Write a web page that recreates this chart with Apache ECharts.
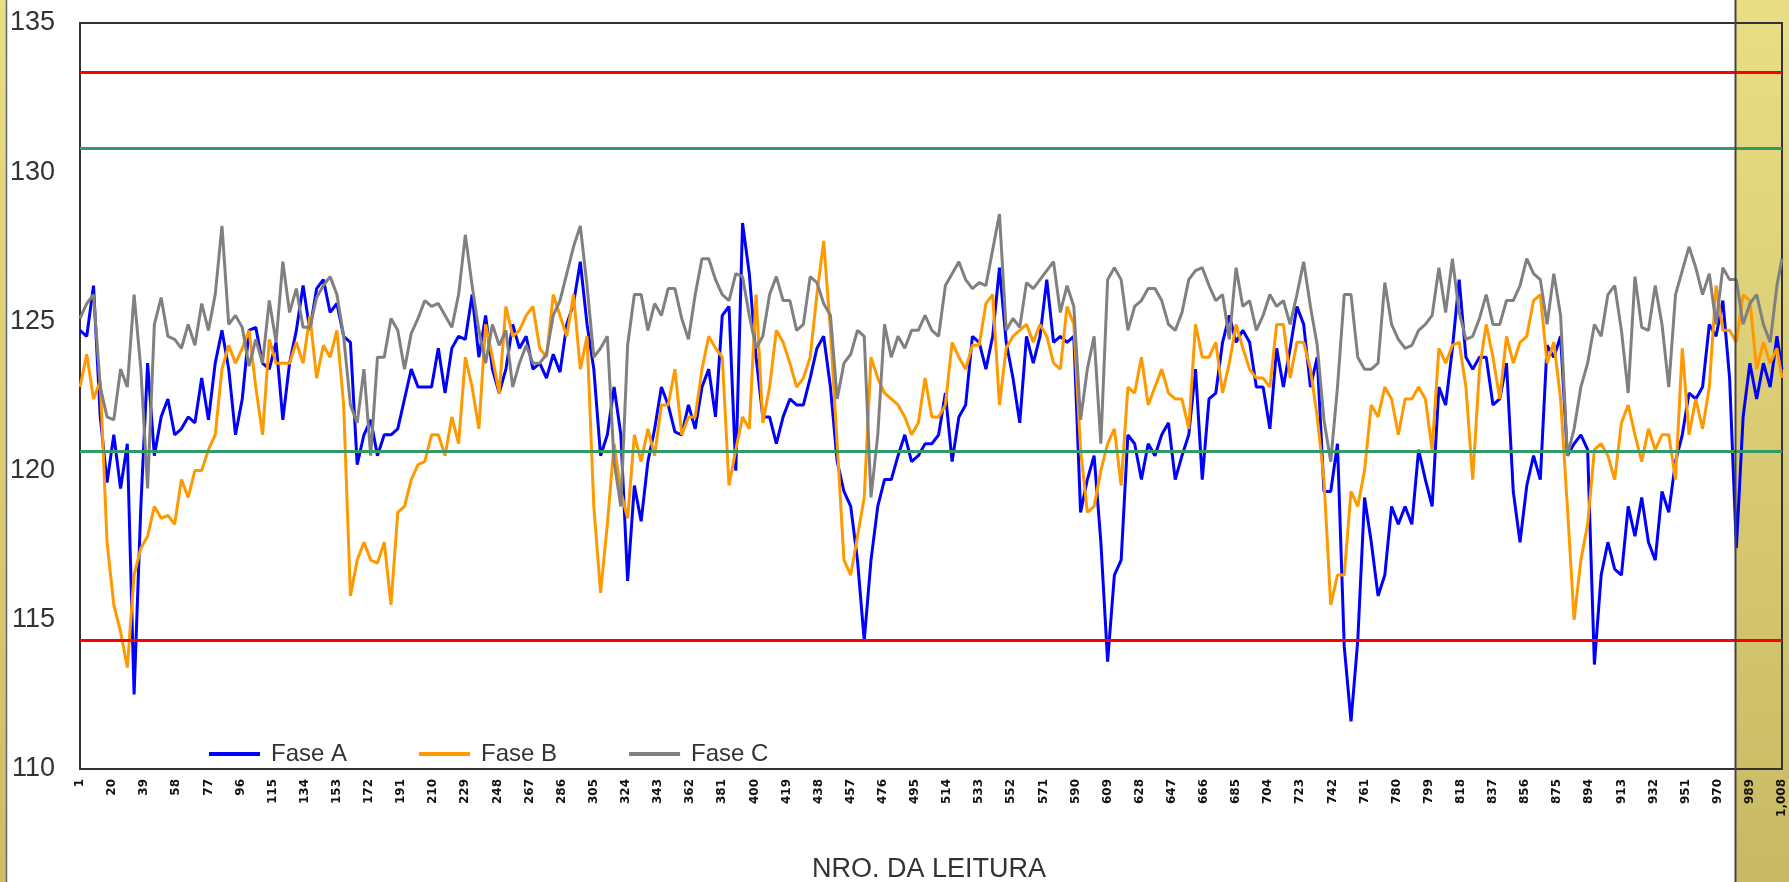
<!DOCTYPE html>
<html>
<head>
<meta charset="utf-8">
<script src="https://cdn.jsdelivr.net/npm/echarts@6/dist/echarts.min.js"></script>
<style>
  html, body { margin: 0; padding: 0; background: #ffffff; }
  #chart { width: 1789px; height: 882px; }
</style>
</head>
<body>
<div id="chart"></div>
<script>
// ---- data (one sample every 4 readings + last reading) ----
const TOTAL_READINGS = 1008;
const SAMPLE_STEP = 4;
const seriesNames = ['Fase A', 'Fase B', 'Fase C'];
const axisTitle = 'NRO. DA LEITURA';
const yTicks = [110, 115, 120, 125, 130, 135];
const limitLines = [133.35, 130.81, 120.65, 114.3];

const faseA = [
  124.7,124.5,126.2,121.8,119.6,121.2,119.4,120.9,112.5,118.8,123.6,120.5,121.8,122.4,121.2,121.4,121.8,121.6,123.1,121.7,
  123.6,124.7,123.4,121.2,122.4,124.7,124.8,123.6,123.4,124.3,121.7,123.6,124.7,126.2,124.7,126.1,126.4,125.3,125.6,124.5,124.3,120.2,
  121.2,121.7,120.5,121.2,121.2,121.4,122.4,123.4,122.8,122.8,122.8,124.1,122.6,124.1,124.5,124.4,125.9,123.8,125.2,123.4,
  122.6,123.4,124.9,124.1,124.5,123.4,123.6,123.1,123.9,123.3,124.9,125.6,127.0,124.9,123.4,120.5,121.2,122.8,121.2,116.3,119.5,118.3,
  120.3,121.4,122.8,122.2,121.3,121.2,122.2,121.4,122.8,123.4,121.8,125.2,125.5,120.0,128.3,126.6,123.8,121.8,121.8,120.9,
  121.8,122.4,122.2,122.2,123.1,124.1,124.5,122.8,120.3,119.3,118.8,117.0,114.3,117.0,118.8,119.7,119.7,120.5,121.2,120.3,120.5,120.9,
  120.9,121.2,122.6,120.3,121.8,122.2,124.5,124.3,123.4,124.5,126.8,124.3,123.1,121.6,124.5,123.6,124.5,126.4,124.3,124.5,
  124.3,124.5,118.6,119.7,120.5,117.6,113.6,116.5,117.0,121.2,120.9,119.7,120.9,120.5,121.2,121.6,119.7,120.5,121.2,123.4,119.7,122.4,
  122.6,124.3,125.2,124.3,124.7,124.3,122.8,122.8,121.4,124.1,122.8,124.1,125.5,124.9,122.8,123.8,119.3,119.3,120.9,114.1,
  111.6,114.3,119.1,117.6,115.8,116.5,118.8,118.2,118.8,118.2,120.7,119.7,118.8,122.8,122.2,124.1,126.4,123.8,123.4,123.8,123.8,122.2,
  122.4,123.6,119.3,117.6,119.5,120.5,119.7,124.2,123.8,124.5,120.5,120.9,121.2,120.7,113.5,116.5,117.6,116.7,116.5,118.8,
  117.8,119.1,117.6,117.0,119.3,118.6,120.3,121.2,122.6,122.4,122.8,124.9,124.5,125.7,123.1,117.4,121.8,123.6,122.4,123.6,122.8,124.5,
  123.4
];

const faseB = [
  122.8,123.9,122.4,123.0,117.6,115.5,114.6,113.4,116.5,117.4,117.8,118.8,118.4,118.5,118.2,119.7,119.1,120.0,120.0,120.7,
  121.2,123.4,124.2,123.6,124.1,124.7,122.8,121.2,124.4,123.6,123.6,123.6,124.3,123.6,125.2,123.1,124.2,123.8,124.7,122.2,115.8,117.0,
  117.6,117.0,116.9,117.6,115.5,118.6,118.8,119.7,120.2,120.3,121.2,121.2,120.5,121.8,120.9,123.8,122.8,121.4,124.9,123.8,
  122.6,125.5,124.5,124.7,125.2,125.5,124.1,123.8,125.9,125.2,124.5,125.9,123.4,124.5,118.8,115.9,118.2,120.9,119.3,118.4,121.2,120.3,
  121.4,120.5,122.2,122.2,123.4,121.2,121.8,121.8,123.4,124.5,124.1,123.8,119.5,120.7,121.8,121.4,125.9,121.6,122.8,124.7,
  124.3,123.6,122.8,123.1,123.8,125.9,127.7,124.7,120.9,117.0,116.5,117.8,119.1,123.8,123.1,122.6,122.4,122.2,121.8,121.2,121.6,123.1,
  121.8,121.8,122.2,124.3,123.8,123.4,124.2,124.2,125.6,125.9,122.2,124.1,124.5,124.7,124.9,124.3,124.9,124.5,123.6,123.4,
  125.5,124.9,120.7,118.6,118.8,120.0,120.9,121.4,119.5,122.8,122.6,123.8,122.2,122.8,123.4,122.6,122.4,122.4,121.4,124.9,123.8,123.8,
  124.3,122.6,123.6,124.9,124.1,123.4,123.1,123.1,122.8,124.9,124.9,123.1,124.3,124.3,123.4,121.8,119.7,115.5,116.5,116.5,
  119.3,118.8,120.0,122.2,121.8,122.8,122.4,121.2,122.4,122.4,122.8,122.4,120.7,124.1,123.6,124.2,124.3,122.8,119.7,123.4,124.9,123.8,
  122.4,124.5,123.6,124.3,124.5,125.7,125.9,123.6,124.3,122.4,118.8,115.0,117.0,118.2,120.7,120.9,120.5,119.7,121.6,122.2,
  121.2,120.3,121.4,120.7,121.2,121.2,119.7,124.1,121.2,122.4,121.4,122.8,126.2,124.7,124.7,124.3,125.9,125.7,123.4,124.3,123.6,124.1,
  123.1
];

const faseC = [
  125.1,125.6,125.9,122.8,121.8,121.7,123.4,122.8,125.9,123.4,119.4,124.9,125.8,124.5,124.4,124.1,124.9,124.2,125.6,124.7,
  125.9,128.2,124.9,125.2,124.8,123.5,124.4,123.6,125.7,124.3,127.0,125.3,126.1,124.8,124.8,125.8,126.2,126.5,125.9,124.5,122.2,121.6,
  123.4,120.5,123.8,123.8,125.1,124.7,123.4,124.6,125.1,125.7,125.5,125.6,125.2,124.8,125.9,127.9,126.2,124.7,123.6,124.9,
  124.2,124.7,122.8,123.6,124.2,123.6,123.6,123.9,125.2,125.7,126.6,127.5,128.2,126.2,123.8,124.1,124.5,120.3,118.8,124.2,125.9,125.9,
  124.7,125.6,125.2,126.1,126.1,125.1,124.4,125.9,127.1,127.1,126.4,125.9,125.7,126.6,126.5,125.2,124.1,124.5,125.9,126.5,
  125.7,125.7,124.7,124.9,126.5,126.3,125.6,125.2,122.4,123.6,123.9,124.7,124.5,119.1,121.2,124.9,123.8,124.5,124.1,124.7,124.7,125.2,
  124.7,124.5,126.2,126.6,127.0,126.4,126.1,126.3,126.2,127.4,128.6,124.7,125.1,124.8,126.3,126.1,126.4,126.7,127.0,125.3,
  126.2,125.5,121.7,123.4,124.5,120.9,126.4,126.8,126.4,124.7,125.5,125.7,126.1,126.1,125.7,124.9,124.7,125.3,126.4,126.7,126.8,126.2,
  125.7,125.9,124.4,126.8,125.5,125.7,124.7,125.2,125.9,125.5,125.7,124.9,125.9,127.0,125.5,124.2,121.7,120.3,122.8,125.9,
  125.9,123.8,123.4,123.4,123.6,126.3,124.9,124.4,124.1,124.2,124.7,124.9,125.2,126.8,125.3,127.1,125.3,124.4,124.5,125.1,125.9,124.9,
  124.9,125.7,125.7,126.2,127.1,126.6,126.4,124.9,126.6,125.2,120.5,121.4,122.8,123.6,124.9,124.5,125.9,126.2,124.7,122.6,
  126.5,124.8,124.7,126.2,124.9,122.8,125.9,126.7,127.5,126.8,125.9,126.6,124.9,126.8,126.4,126.4,124.9,125.6,125.9,124.9,124.3,126.2,
  127.1
];

// ---- chart ----
const categories = Array.from({ length: TOTAL_READINGS }, (_, i) => String(i + 1));
const toPairs = arr => arr.map((v, m) => [Math.min(m * SAMPLE_STEP, TOTAL_READINGS - 1), v]);

const FONT = "'Liberation Sans', Arial, sans-serif";
const colors = ['#0000FF', '#FF9900', '#808080'];
const limitColors = ['#FF0000', '#339966', '#339966', '#FF0000'];

const chart = echarts.init(document.getElementById('chart'), null, { renderer: 'canvas' });

chart.setOption({
  animation: false,
  backgroundColor: 'transparent',
  grid: { left: 80, right: 7, top: 23, bottom: 113, show: true, borderColor: '#333', borderWidth: 2, backgroundColor: 'transparent' },
  legend: {
    data: seriesNames,
    left: 204, top: 737,
    icon: 'rect', itemWidth: 51, itemHeight: 4, itemGap: 72,
    textStyle: { fontFamily: FONT, fontSize: 24, color: '#333', padding: [0, 0, 0, 6] }
  },
  xAxis: {
    type: 'category',
    data: categories,
    boundaryGap: false,
    axisLine: { show: false },
    axisTick: { show: false },
    splitLine: { show: false },
    axisLabel: {
      interval: 18, rotate: 90, margin: 10,
      fontFamily: 'DejaVu Sans', fontWeight: 'bold', fontSize: 12, color: '#111',
      formatter: v => Number(v).toLocaleString('en-US')
    }
  },
  yAxis: {
    type: 'value',
    min: yTicks[0], max: yTicks[yTicks.length - 1], interval: 5,
    axisLine: { show: false },
    axisTick: { show: false },
    splitLine: { show: false },
    axisLabel: { fontFamily: FONT, fontSize: 27, color: '#333', margin: 25 }
  },
  graphic: [
    { type: 'rect', z: -1, shape: { x: 0, y: 0, width: 6, height: 882 },
      style: { fill: new echarts.graphic.LinearGradient(0, 0, 0, 1, [{ offset: 0, color: '#e9dd86' }, { offset: 1, color: '#cdbd66' }]) } },
    { type: 'line', z: -1, shape: { x1: 6.5, y1: 0, x2: 6.5, y2: 882 }, style: { stroke: '#666', lineWidth: 1.5 } },
    { type: 'rect', z: -1, shape: { x: 1736, y: 0, width: 53, height: 882 },
      style: { fill: new echarts.graphic.LinearGradient(0, 0, 0, 1, [{ offset: 0, color: '#e9de84' }, { offset: 1, color: '#c9b964' }]) } },
    { type: 'line', z: 10, shape: { x1: 1735.5, y1: 0, x2: 1735.5, y2: 882 }, style: { stroke: '#444', lineWidth: 2 } },
    { type: 'text', z: 10, x: 929, y: 870,
      style: { text: axisTitle, font: "27px " + FONT, fill: '#333', textAlign: 'center', textVerticalAlign: 'middle' } }
  ],
  series: [
    { name: seriesNames[0], type: 'line', data: toPairs(faseA), symbol: 'none', lineStyle: { color: colors[0], width: 3 }, itemStyle: { color: colors[0] } },
    { name: seriesNames[1], type: 'line', data: toPairs(faseB), symbol: 'none', lineStyle: { color: colors[1], width: 3 }, itemStyle: { color: colors[1] } },
    { name: seriesNames[2], type: 'line', data: toPairs(faseC), symbol: 'none', lineStyle: { color: colors[2], width: 3 }, itemStyle: { color: colors[2] },
      markLine: {
        silent: true, symbol: ['none', 'none'], label: { show: false },
        data: limitLines.map((v, i) => ({ yAxis: v, lineStyle: { color: limitColors[i], width: 3, type: 'solid' } }))
      }
    }
  ]
});
</script>
</body>
</html>
